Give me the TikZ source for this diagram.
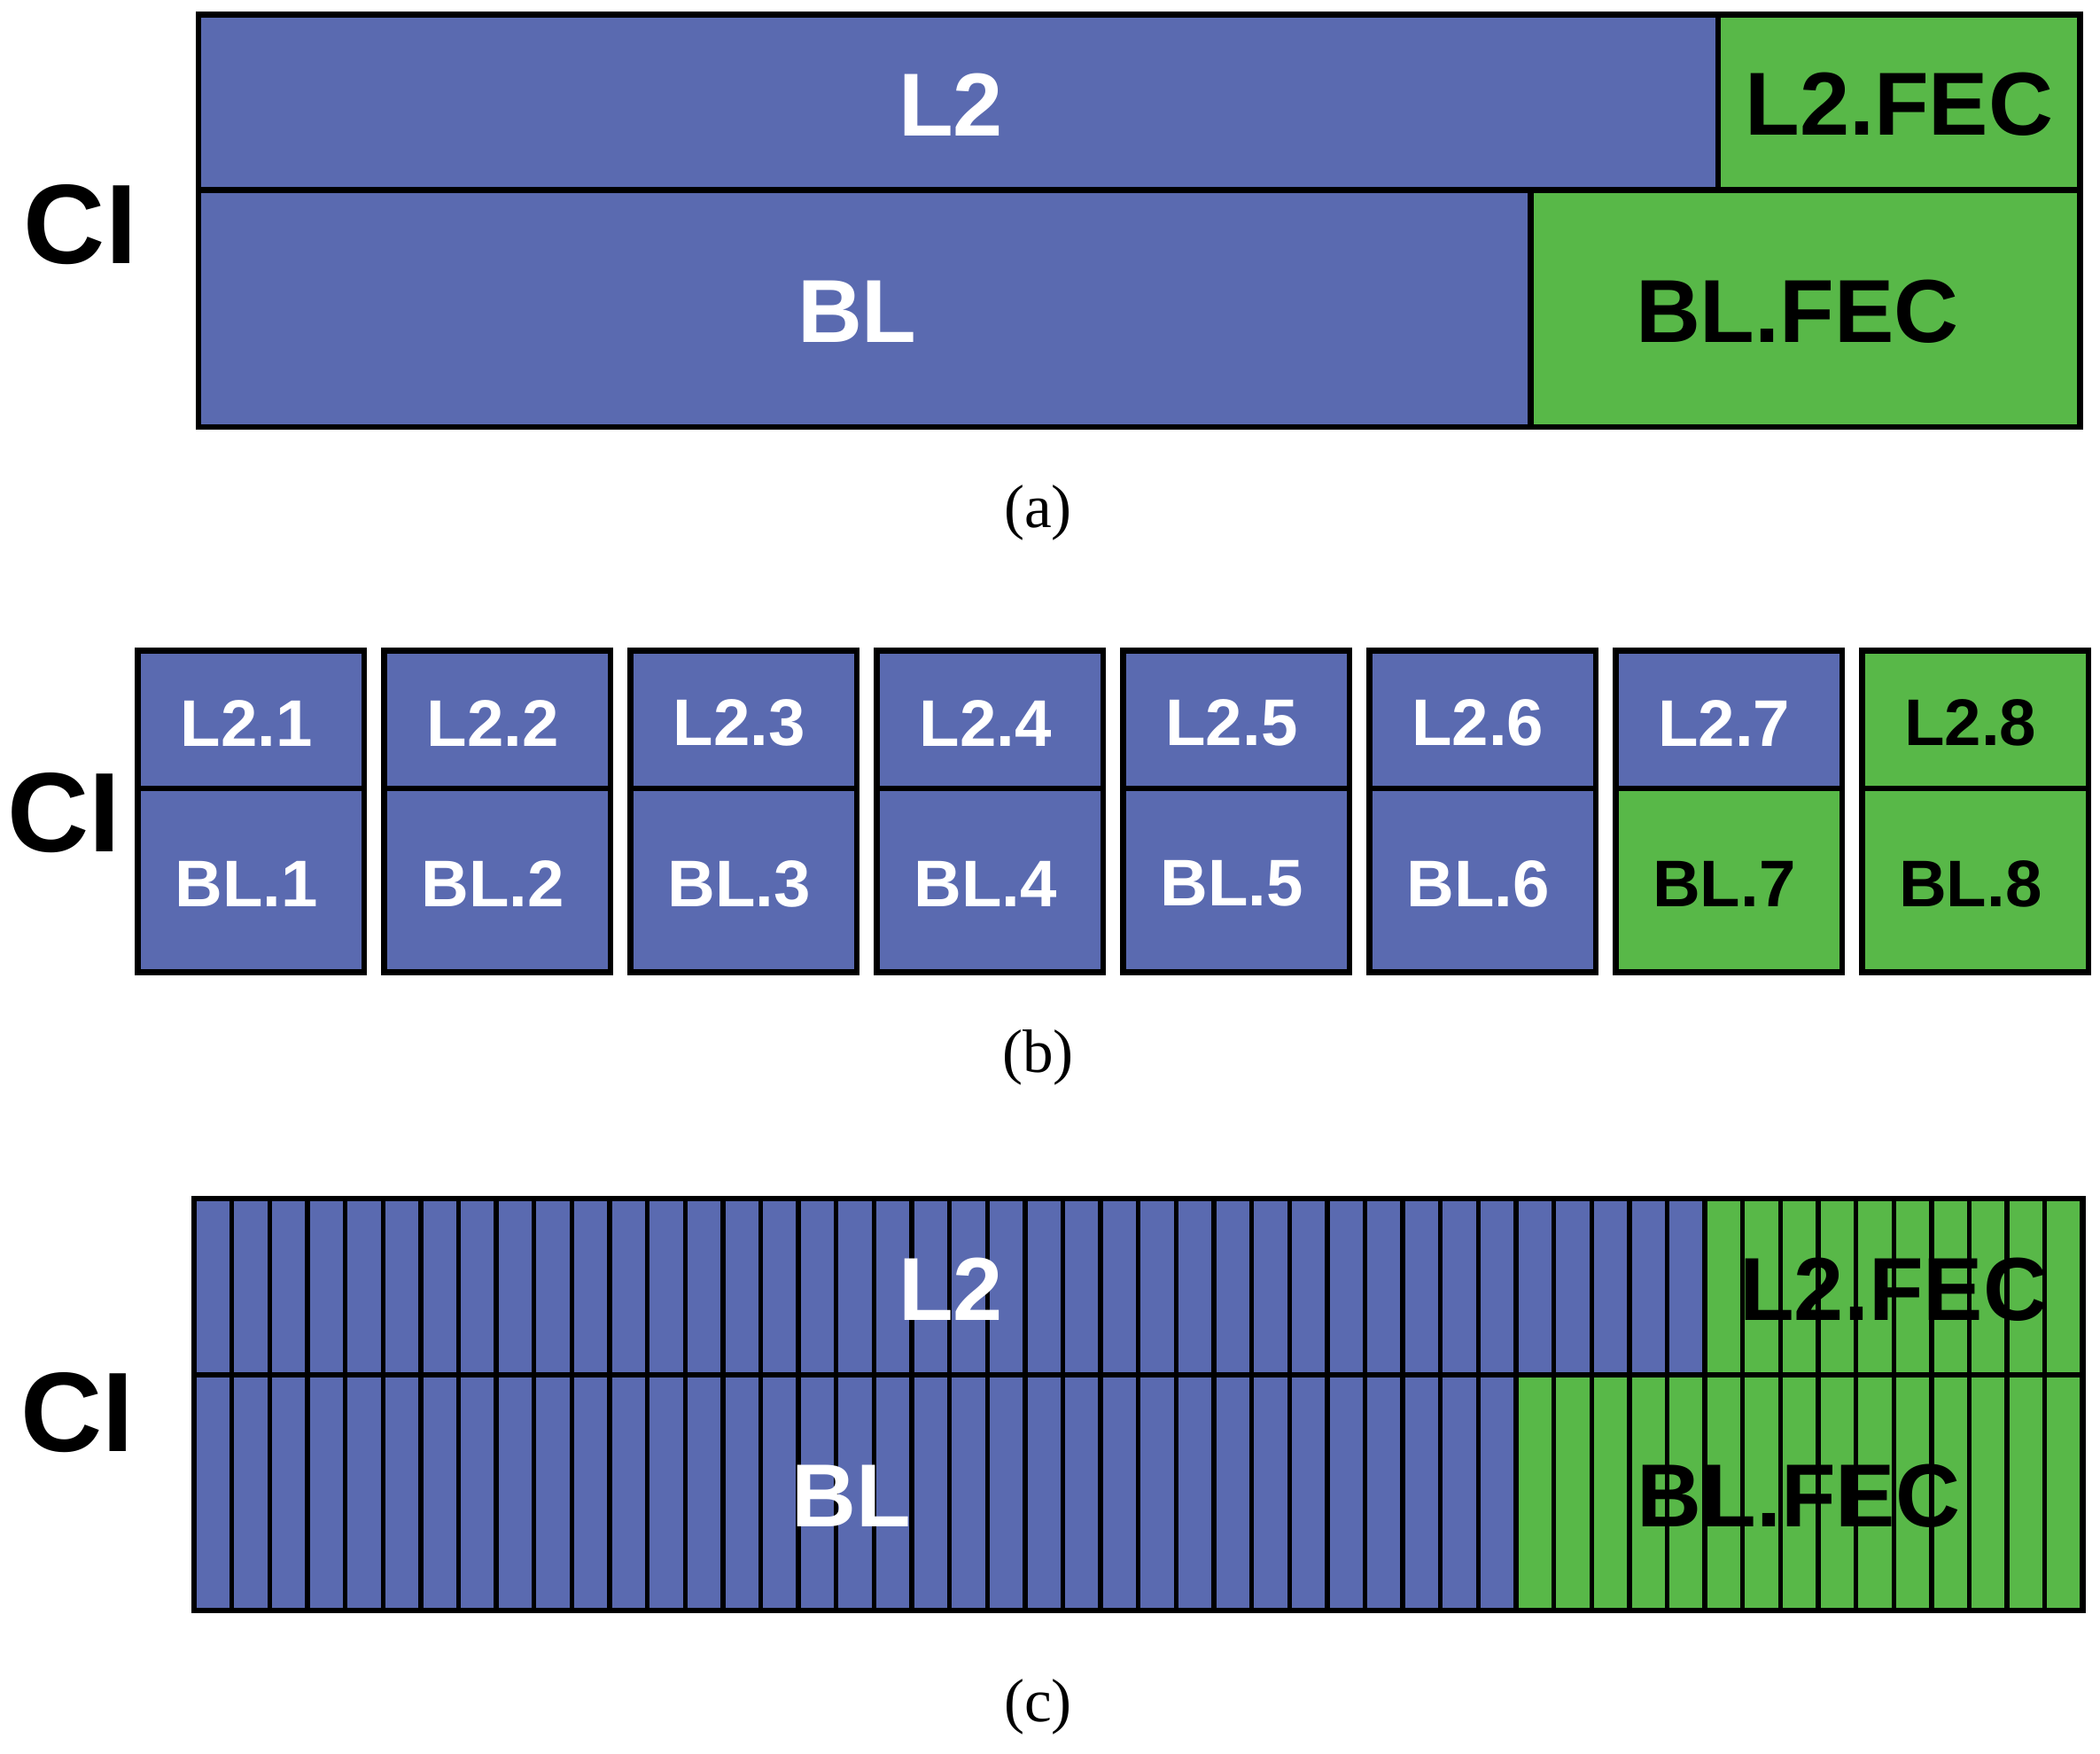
\documentclass[tikz,border=0pt]{standalone}
\usepackage{fontspec}
\setmainfont{Liberation Serif}
\newfontfamily\lbl{Liberation Sans}
\usetikzlibrary{positioning}
\definecolor{cblue}{RGB}{90,106,176}
\definecolor{cgreen}{RGB}{88,184,72}
\tikzset{
  blu/.style={fill=cblue,draw=black,line width=1.2pt},
  grn/.style={fill=cgreen,draw=black,line width=1.2pt},
  big/.style={font=\lbl\bfseries\fontsize{19}{19}\selectfont},
  sml/.style={font=\lbl\bfseries\fontsize{14}{14}\selectfont},
  ci/.style={font=\lbl\bfseries\fontsize{24}{24}\selectfont},
  subcap/.style={font=\fontsize{13}{13}\selectfont}
}
\begin{document}
\begin{tikzpicture}[x=0.01cm,y=-0.01cm]
    \useasboundingbox (0,0) rectangle (1568,1310);
    % (a)
    \draw[blu] (148,11) rectangle (1283,142);
    \draw[grn] (1283,11) rectangle (1553,142);
    \draw[blu] (148,142) rectangle (1143,319);
    \draw[grn] (1143,142) rectangle (1553,319);
    \node[big,white] (a_l2) at (710,78) {L2};
    \node[big] (a_l2fec) at (1418,78) {L2.FEC};
    \node[big,white] (a_bl) at (640,233) {BL};
    \node[big] (a_blfec) at (1342,233) {BL.FEC};
    \node[ci] (a_ci) at (60,168) {CI};
    \node[subcap] (a_cap) at (775,383) {(a)};
    % (b)
    \foreach \i in {1,...,8} {
        \pgfmathsetmacro{\xs}{103+183.9*(\i-1)}
        \ifnum\i<7 \def\ctop{blu}\def\cbot{blu}\def\tc{white}\def\bc{white}
        \else\ifnum\i=7 \def\ctop{blu}\def\cbot{grn}\def\tc{white}\def\bc{black}
        \else \def\ctop{grn}\def\cbot{grn}\def\tc{black}\def\bc{black}\fi\fi
        \draw[\ctop] (\xs,486) rectangle ++(169,103);
        \draw[\cbot] (\xs,589) rectangle ++(169,137);
        \node[sml,text=\tc] (b_l2_\i) at (\xs+81,540) {L2.\i};
        \node[sml,text=\bc] (b_bl_\i) at (\xs+81,660) {BL.\i};
    }
    \node[ci] (b_ci) at (48,607) {CI};
    \node[subcap] (b_cap) at (775,790) {(b)};
    % (c)
    \draw[blu] (145,895) rectangle (1273,1027);
    \draw[grn] (1273,895) rectangle (1555,1027);
    \draw[blu] (145,1027) rectangle (1132,1203);
    \draw[grn] (1132,1027) rectangle (1555,1203);
    \foreach \i in {1,...,49}
        \draw[line width=1pt] (145+28.2*\i,895) -- (145+28.2*\i,1203);
    \node[big,white] (c_l2) at (710,963) {L2};
    \node[big] (c_l2fec) at (1414,963) {L2.FEC};
    \node[big,white] (c_bl) at (636,1117) {BL};
    \node[big] (c_blfec) at (1343,1117) {BL.FEC};
    \node[ci] (c_ci) at (58,1055) {CI};
    \node[subcap] (c_cap) at (775,1275) {(c)};
\end{tikzpicture}
\end{document}
